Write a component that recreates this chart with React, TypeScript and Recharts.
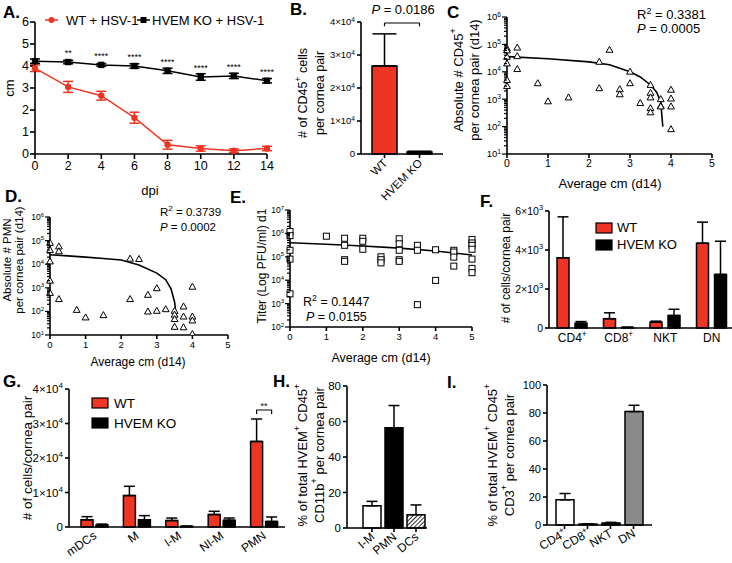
import React from 'react'
import {
  LineChart, Line, BarChart, Bar, Cell, ScatterChart, Scatter,
  XAxis, YAxis, ErrorBar, LabelList, ReferenceLine,
} from 'recharts'

const FONT = '"Liberation Sans", Arial, Helvetica, sans-serif'
const RED = '#EE3524'
const AX = { stroke: '#000', strokeWidth: 1.6 }

// A. lesion size (cm) over days post infection
const dpi = [0, 2, 4, 6, 8, 10, 12, 14]
const wtCm = [3.9, 3.05, 2.65, 1.65, 0.42, 0.25, 0.15, 0.25]
const wtCmSem = [0.15, 0.25, 0.2, 0.25, 0.2, 0.12, 0.08, 0.1]
const koCm = [4.22, 4.18, 4.05, 4.0, 3.78, 3.5, 3.55, 3.33]
const koCmSem = [0.1, 0.08, 0.06, 0.1, 0.12, 0.15, 0.12, 0.1]
const dpiSig = ['', '**', '****', '****', '****', '****', '****', '****']

// B. CD45+ cells
const bGroups = ['WT', 'HVEM KO']
const bCd45 = [26700, 600]
const bCd45Err = [9700, 250]

// C. CD45+ vs cm
const cCm = [0, 0, 0, 0, 0, 0, 0.25, 0.25, 0.25, 0.75, 1, 1.5, 2.25, 2.25, 2.5, 2.75, 2.75, 3, 3, 3.25, 3.5, 3.5, 3.5, 3.5, 3.5, 3.75, 3.75, 3.75, 4, 4, 4, 4]
const cCd45 = [70000, 60000, 35000, 20000, 5000, 3000, 76000, 37000, 12500, 3800, 830, 1150, 23000, 2500, 63000, 2300, 1500, 10000, 3800, 720, 3300, 1700, 1150, 470, 330, 1000, 570, 540, 2200, 1050, 540, 80]
const cFitCm = [0, 1, 2, 2.5, 3, 3.25, 3.5, 3.65, 3.75, 3.8]
const cFitVal = [36000, 30000, 23000, 18000, 10000, 6500, 3300, 1800, 800, 100]

// D. PMN vs cm
const dCm = [0, 0, 0, 0, 0, 0.25, 0.25, 0.25, 0.75, 1, 1.5, 2.25, 2.5, 2.25, 2.75, 2.75, 3, 3, 3.25, 3.5, 3.5, 3.5, 3.5, 3.75, 3.75, 3.75, 4, 4, 4, 4]
const dPmn = [80000, 40000, 13000, 2000, 600, 56000, 35000, 330, 115, 55, 69, 17000, 16500, 330, 500, 98, 950, 105, 123, 105, 72, 47, 22, 160, 60, 21, 1100, 60, 41, 11]
const dFitCm = [0, 0.5, 1, 1.5, 2, 2.5, 3, 3.25, 3.4, 3.5, 3.53]
const dFitVal = [25000, 22500, 20000, 17500, 15000, 9300, 4200, 2200, 900, 250, 100]

// E. titer vs cm
const eCm = [0, 0, 0, 0, 0, 1, 1.5, 1.5, 1.5, 1.5, 2, 2, 2, 2.5, 2.5, 2.5, 3, 3, 3, 3, 3, 3.5, 3.5, 3.5, 4, 4, 4.5, 4.5, 4.5, 4.5, 5, 5, 5, 5, 5, 5, 5]
const eTiter = [1.2e6, 8e5, 1.9e5, 8e4, 2.6e3, 7.6e5, 6.2e5, 3.1e5, 7.5e4, 6.4e4, 6.2e5, 4.6e5, 2.1e5, 1e5, 7.5e4, 5.5e4, 5.9e5, 3.6e5, 1.9e5, 7.5e4, 6.4e4, 3.1e5, 1.9e5, 900, 2e5, 9.8e3, 1.9e5, 1.6e5, 9.7e4, 4e4, 5.5e5, 3.9e5, 3.1e5, 2.1e5, 8e4, 3.2e4, 2.1e4]
const eFitCm = [0, 1, 2, 3, 4, 5]
const eFitVal = [400000, 345000, 290000, 235000, 178000, 120000]

// F. T cell subsets
const fCells = ['CD4^{+}', 'CD8^{+}', 'NKT', 'DN']
const fWt = [3600, 480, 300, 4350]
const fWtErr = [2100, 300, 50, 1080]
const fKo = [250, 30, 640, 2750]
const fKoErr = [80, 10, 320, 1700]

// G. myeloid subsets
const gCells = ['mDCs', 'M', 'I-M', 'NI-M', 'PMN']
const gWt = [2100, 9100, 1850, 3600, 24800]
const gWtErr = [900, 2700, 750, 950, 6500]
const gKo = [600, 2100, 200, 1950, 1600]
const gKoErr = [250, 1200, 50, 650, 1300]
const gSig = ['', '', '', '', '**']

// H. % of HVEM+ CD45+ CD11b+
const hCells = ['I-M', 'PMN', 'DCs']
const hPct = [12.5, 56.5, 7.5]
const hErr = [2.5, 12.5, 5.5]
const hFill = ['#fff', '#000', 'url(#hatchH)']

// I. % of HVEM+ CD45+ CD3+
const iCells = ['CD4^{+}', 'CD8^{+}', 'NKT', 'DN']
const iPct = [18, 0.7, 1.5, 81]
const iErr = [4.5, 0.2, 0.4, 4.5]
const iFill = ['#fff', '#000', '#000', '#8a8a8a']

const logDecadesC = [10, 100, 1e3, 1e4, 1e5, 1e6]
const logDecadesE = [100, 1e3, 1e4, 1e5, 1e6, 1e7]

function logTicks(decades: number[]) {
  const out: number[] = []
  decades.forEach((d, i) => {
    if (i === decades.length - 1) out.push(d)
    else for (let k = 1; k < 10; k++) out.push(d * k)
  })
  return out
}

// text with ^{...} superscripts
function rich(s: string, fs: number) {
  const parts = s.split(/(\^\{[^}]*\})/).filter(Boolean)
  let up = false
  return parts.map((p, i) => {
    if (p.startsWith('^{')) {
      up = true
      return <tspan key={i} dy={-fs * 0.4} fontSize={fs * 0.7}>{p.slice(2, -1)}</tspan>
    }
    const dy = up ? fs * 0.4 : undefined
    up = false
    return <tspan key={i} dy={dy}>{p}</tspan>
  })
}

const sci = (v: number) => {
  if (v === 0) return '0'
  const e = Math.floor(Math.log10(v) + 1e-9)
  return `${Math.round(v / 10 ** e)}×10^{${e}}`
}

const YTick = ({ x, y, payload, fs, fmt }: any) => (
  <text x={x} y={y} dy={fs * 0.35} textAnchor="end" fontSize={fs} fill="#000" fontFamily={FONT}>
    {rich(fmt ? fmt(payload.value) : String(payload.value), fs)}
  </text>
)

const LogTick = ({ x, y, payload, fs }: any) => {
  const e = Math.log10(payload.value)
  const major = Math.abs(e - Math.round(e)) < 1e-6
  return (
    <g>
      <line x1={x - (major ? 5 : 3)} x2={x} y1={y} y2={y} stroke="#000" strokeWidth={1.2} />
      {major && (
        <text x={x - 6} y={y} dy={fs * 0.35} textAnchor="end" fontSize={fs} fill="#000" fontFamily={FONT}>
          {rich(`10^{${Math.round(e)}}`, fs)}
        </text>
      )}
    </g>
  )
}

const XTick = ({ x, y, payload, fs, angle }: any) => (
  <g transform={`translate(${x},${y})`}>
    <text transform={`rotate(${angle})`} textAnchor={angle ? 'end' : 'middle'} dy={angle ? fs * 0.45 : fs * 0.85}
      fontSize={fs} fill="#000" fontFamily={FONT}>
      {rich(String(payload.value), fs)}
    </text>
  </g>
)

const Tri = ({ cx, cy }: any) => (
  <polygon points={`${cx},${cy - 3.6} ${cx - 3.4},${cy + 2.4} ${cx + 3.4},${cy + 2.4}`} fill="#fff" stroke="#000" strokeWidth={1} />
)
const Sq = ({ cx, cy }: any) => (
  <rect x={cx - 3} y={cy - 3} width={6} height={6} fill="#fff" stroke="#000" strokeWidth={1} />
)
const Empty = () => <g />

const RedDot = ({ cx, cy }: any) => <circle cx={cx} cy={cy} r={3.2} fill={RED} />
const BlackSq = ({ cx, cy }: any) => <rect x={cx - 3.2} y={cy - 3.2} width={6.4} height={6.4} fill="#000" />

const StarLabel = ({ x, y, value }: any) =>
  value ? <text x={x} y={y - 6} textAnchor="middle" fontSize={9} fill="#000" fontFamily={FONT}>{value}</text> : null

const tick = (fs: number) => ({ fill: '#000', fontSize: fs, fontFamily: FONT })

const YTitle = ({ x, y, lines, fs, gap }: any) => (
  <>
    {lines.map((l: string, i: number) => (
      <text key={i} transform={`translate(${x + i * gap},${y}) rotate(-90)`} textAnchor="middle" dominantBaseline="central"
        fontSize={fs} fill="#000" fontFamily={FONT}>{rich(l, fs)}</text>
    ))}
  </>
)

const T = ({ x, y, fs = 13, anchor = 'start', bold = false, children }: any) => (
  <text x={x} y={y} fontSize={fs} textAnchor={anchor} fontWeight={bold ? 'bold' : 'normal'} fill="#000" fontFamily={FONT}>{children}</text>
)

const Pos = ({ l, t, children }: any) => <div style={{ position: 'absolute', left: l, top: t }}>{children}</div>

export default function App() {
  const dataA = dpi.map((d, i) => ({ d, wt: wtCm[i], wtE: wtCmSem[i], ko: koCm[i], koE: koCmSem[i], sig: dpiSig[i] }))
  const dataB = bGroups.map((g, i) => ({ g, v: bCd45[i], e: [0, bCd45Err[i]] }))
  const ptsC = cCm.map((x, i) => ({ x, y: cCd45[i] }))
  const fitC = cFitCm.map((x, i) => ({ x, y: cFitVal[i] }))
  const ptsD = dCm.map((x, i) => ({ x, y: dPmn[i] }))
  const fitD = dFitCm.map((x, i) => ({ x, y: dFitVal[i] }))
  const ptsE = eCm.map((x, i) => ({ x, y: eTiter[i] }))
  const fitE = eFitCm.map((x, i) => ({ x, y: eFitVal[i] }))
  const dataF = fCells.map((c, i) => ({ c, wt: fWt[i], wtE: [0, fWtErr[i]], ko: fKo[i], koE: [0, fKoErr[i]] }))
  const dataG = gCells.map((c, i) => ({ c, wt: gWt[i], wtE: [0, gWtErr[i]], ko: gKo[i], koE: [0, gKoErr[i]], sig: gSig[i] }))
  const dataH = hCells.map((c, i) => ({ c, v: hPct[i], e: [0, hErr[i]] }))
  const dataI = iCells.map((c, i) => ({ c, v: iPct[i], e: [0, iErr[i]] }))

  const GBracket = (p: any) => {
    const i = p.index
    if (!gSig[i]) return null
    const pxPerUnit = p.height / gWt[i]
    const top = p.y - gWtErr[i] * pxPerUnit - 9
    const x1 = p.x + p.width / 2
    const x2 = x1 + p.width + 3
    return (
      <g>
        <path d={`M${x1},${top + 4} V${top} H${x2} V${top + 4}`} fill="none" stroke="#000" strokeWidth={1.2} />
        <text x={(x1 + x2) / 2} y={top - 1} textAnchor="middle" fontSize={9} fill="#000" fontFamily={FONT}>{gSig[i]}</text>
      </g>
    )
  }

  return (
    <div style={{ position: 'absolute', left: 0, top: 0, width: 732, height: 563, overflow: 'hidden', background: '#fff', fontFamily: FONT }}>
      {/* A */}
      <Pos l={0} t={0}>
        <LineChart width={280} height={200} data={dataA} margin={{ top: 22, right: 13, bottom: 0, left: 0 }}>
          <XAxis dataKey="d" type="number" domain={[0, 14]} ticks={dpi} interval={0} height={46} tickSize={5} tickMargin={2}
            tick={tick(12.5)} axisLine={AX} tickLine={AX} />
          <YAxis type="number" domain={[0, 6]} ticks={[0, 1, 2, 3, 4, 5, 6]} interval={0} width={35} tickSize={5} tickMargin={1}
            tick={tick(12.5)} axisLine={AX} tickLine={AX} />
          <Line dataKey="ko" stroke="#000" strokeWidth={1.5} dot={BlackSq} isAnimationActive={false}>
            <ErrorBar dataKey="koE" width={5} stroke="#000" strokeWidth={1.5} direction="y" />
            <LabelList dataKey="sig" content={StarLabel} />
          </Line>
          <Line dataKey="wt" stroke={RED} strokeWidth={1.5} dot={RedDot} isAnimationActive={false}>
            <ErrorBar dataKey="wtE" width={5} stroke={RED} strokeWidth={1.5} direction="y" />
          </Line>
        </LineChart>
      </Pos>

      {/* B */}
      <Pos l={290} t={0}>
        <BarChart width={160} height={215} data={dataB} margin={{ top: 22, right: 7, bottom: 0, left: 0 }}>
          <XAxis dataKey="g" height={61} padding={{ left: 6, right: 6 }} interval={0} tickSize={4} tickMargin={2}
            tick={(p: any) => <XTick {...p} fs={11.5} angle={-45} />} axisLine={AX} tickLine={AX} />
          <YAxis domain={[0, 40000]} ticks={[0, 10000, 20000, 30000, 40000]} interval={0} width={71} tickSize={4} tickMargin={2}
            tick={(p: any) => <YTick {...p} fs={9.5} fmt={sci} />} axisLine={AX} tickLine={AX} />
          <ReferenceLine segment={[{ x: 'WT', y: 39700 }, { x: 'HVEM KO', y: 39700 }]} stroke="#000" strokeWidth={1.2} />
          <ReferenceLine segment={[{ x: 'WT', y: 39700 }, { x: 'WT', y: 38700 }]} stroke="#000" strokeWidth={1.2} />
          <ReferenceLine segment={[{ x: 'HVEM KO', y: 39700 }, { x: 'HVEM KO', y: 38700 }]} stroke="#000" strokeWidth={1.2} />
          <Bar dataKey="v" barSize={25} stroke="#000" strokeWidth={1.5} isAnimationActive={false}>
            {bGroups.map((g, i) => <Cell key={g} fill={i === 0 ? RED : '#000'} />)}
            <ErrorBar dataKey="e" width={12} stroke="#000" strokeWidth={1.5} direction="y" />
          </Bar>
        </BarChart>
      </Pos>

      {/* C */}
      <Pos l={450} t={0}>
        <ScatterChart width={282} height={200} margin={{ top: 17, right: 20, bottom: 0, left: 0 }}>
          <XAxis dataKey="x" type="number" domain={[0, 5]} ticks={[0, 1, 2, 3, 4, 5]} interval={0} height={46} tickSize={4} tickMargin={2}
            tick={tick(10.5)} axisLine={AX} tickLine={AX} />
          <YAxis dataKey="y" type="number" scale="log" domain={[10, 1e6]} allowDataOverflow ticks={logTicks(logDecadesC)} interval={0}
            width={57} tickSize={0} tickMargin={0} tickLine={false} tick={(p: any) => <LogTick {...p} fs={9.5} />} axisLine={AX} />
          <Scatter data={fitC} line={{ stroke: '#000', strokeWidth: 1.6 }} shape={Empty} isAnimationActive={false} />
          <Scatter data={ptsC} shape={Tri} isAnimationActive={false} />
        </ScatterChart>
      </Pos>

      {/* D */}
      <Pos l={0} t={200}>
        <ScatterChart width={240} height={180} margin={{ top: 17, right: 12, bottom: 0, left: 0 }}>
          <XAxis dataKey="x" type="number" domain={[0, 5]} ticks={[0, 1, 2, 3, 4, 5]} interval={0} height={45} tickSize={4} tickMargin={2}
            tick={tick(9.5)} axisLine={AX} tickLine={AX} />
          <YAxis dataKey="y" type="number" scale="log" domain={[10, 1e6]} allowDataOverflow ticks={logTicks(logDecadesC)} interval={0}
            width={50} tickSize={0} tickMargin={0} tickLine={false} tick={(p: any) => <LogTick {...p} fs={8.5} />} axisLine={AX} />
          <Scatter data={fitD} line={{ stroke: '#000', strokeWidth: 1.6 }} shape={Empty} isAnimationActive={false} />
          <Scatter data={ptsD} shape={Tri} isAnimationActive={false} />
        </ScatterChart>
      </Pos>

      {/* E */}
      <Pos l={240} t={195}>
        <ScatterChart width={240} height={185} margin={{ top: 15, right: 8, bottom: 0, left: 0 }}>
          <XAxis dataKey="x" type="number" domain={[0, 5]} ticks={[0, 1, 2, 3, 4, 5]} interval={0} height={53} tickSize={4} tickMargin={2}
            tick={tick(9.5)} axisLine={AX} tickLine={AX} />
          <YAxis dataKey="y" type="number" scale="log" domain={[100, 1e7]} allowDataOverflow ticks={logTicks(logDecadesE)} interval={0}
            width={50} tickSize={0} tickMargin={0} tickLine={false} tick={(p: any) => <LogTick {...p} fs={8.5} />} axisLine={AX} />
          <Scatter data={fitE} line={{ stroke: '#000', strokeWidth: 1.6 }} shape={Empty} isAnimationActive={false} />
          <Scatter data={ptsE} shape={Sq} isAnimationActive={false} />
        </ScatterChart>
      </Pos>

      {/* F */}
      <Pos l={480} t={195}>
        <BarChart width={258} height={185} data={dataF} margin={{ top: 16, right: 3, bottom: 0, left: 0 }} barGap={6} barSize={12}>
          <XAxis dataKey="c" height={52} interval={0} tickSize={0} tickMargin={4}
            tick={(p: any) => <XTick {...p} fs={12} angle={0} />} axisLine={AX} tickLine={false} />
          <YAxis domain={[0, 6000]} ticks={[0, 2000, 4000, 6000]} interval={0} width={69} tickSize={4} tickMargin={2}
            tick={(p: any) => <YTick {...p} fs={10.5} fmt={sci} />} axisLine={AX} tickLine={AX} />
          <Bar dataKey="wt" fill={RED} stroke="#000" strokeWidth={1.5} isAnimationActive={false}>
            <ErrorBar dataKey="wtE" width={5.5} stroke="#000" strokeWidth={1.5} direction="y" />
          </Bar>
          <Bar dataKey="ko" fill="#000" stroke="#000" strokeWidth={1.5} isAnimationActive={false}>
            <ErrorBar dataKey="koE" width={5.5} stroke="#000" strokeWidth={1.5} direction="y" />
          </Bar>
        </BarChart>
      </Pos>

      {/* G */}
      <Pos l={0} t={375}>
        <BarChart width={290} height={188} data={dataG} margin={{ top: 14, right: 5, bottom: 0, left: 0 }} barGap={3} barSize={12}>
          <XAxis dataKey="c" height={36} interval={0} padding={{ left: 4, right: 0 }} tickSize={0} tickMargin={6}
            tick={(p: any) => <XTick {...p} fs={12} angle={-35} />} axisLine={AX} tickLine={false} />
          <YAxis domain={[0, 40000]} ticks={[0, 10000, 20000, 30000, 40000]} interval={0} width={69} tickSize={4} tickMargin={2}
            tick={(p: any) => <YTick {...p} fs={11.5} fmt={sci} />} axisLine={AX} tickLine={AX} />
          <Bar dataKey="wt" fill={RED} stroke="#000" strokeWidth={1.5} isAnimationActive={false}>
            <ErrorBar dataKey="wtE" width={5.5} stroke="#000" strokeWidth={1.5} direction="y" />
            <LabelList dataKey="sig" content={GBracket} />
          </Bar>
          <Bar dataKey="ko" fill="#000" stroke="#000" strokeWidth={1.5} isAnimationActive={false}>
            <ErrorBar dataKey="koE" width={5.5} stroke="#000" strokeWidth={1.5} direction="y" />
          </Bar>
        </BarChart>
      </Pos>

      {/* H */}
      <Pos l={290} t={375}>
        <BarChart width={150} height={188} data={dataH} margin={{ top: 11, right: 13, bottom: 0, left: 0 }}>
          <defs>
            <pattern id="hatchH" patternUnits="userSpaceOnUse" width={3} height={3} patternTransform="rotate(45)">
              <rect width={3} height={3} fill="#fff" />
              <line x1={0} y1={0} x2={0} y2={3} stroke="#333" strokeWidth={2} />
            </pattern>
          </defs>
          <XAxis dataKey="c" height={35} interval={0} padding={{ left: 14, right: 0 }} tickSize={4} tickMargin={2}
            tick={(p: any) => <XTick {...p} fs={12} angle={-40} />} axisLine={AX} tickLine={AX} />
          <YAxis domain={[0, 80]} ticks={[0, 20, 40, 60, 80]} interval={0} width={57} tickSize={4} tickMargin={2}
            tick={(p: any) => <YTick {...p} fs={11.5} />} axisLine={AX} tickLine={AX} />
          <Bar dataKey="v" barSize={18} stroke="#000" strokeWidth={1.5} isAnimationActive={false}>
            {hCells.map((c, i) => <Cell key={c} fill={hFill[i]} />)}
            <ErrorBar dataKey="e" width={5.5} stroke="#000" strokeWidth={1.5} direction="y" />
          </Bar>
        </BarChart>
      </Pos>

      {/* I */}
      <Pos l={480} t={375}>
        <BarChart width={252} height={188} data={dataI} margin={{ top: 10, right: 80, bottom: 0, left: 0 }}>
          <XAxis dataKey="c" height={38} interval={0} padding={{ left: 6, right: 7 }} tickSize={4} tickMargin={2}
            tick={(p: any) => <XTick {...p} fs={12} angle={-30} />} axisLine={AX} tickLine={AX} />
          <YAxis domain={[0, 100]} ticks={[0, 20, 40, 60, 80, 100]} interval={0} width={67} tickSize={4} tickMargin={2}
            tick={(p: any) => <YTick {...p} fs={11} />} axisLine={AX} tickLine={AX} />
          <Bar dataKey="v" barSize={18} stroke="#000" strokeWidth={1.5} isAnimationActive={false}>
            {iCells.map((c, i) => <Cell key={c} fill={iFill[i]} />)}
            <ErrorBar dataKey="e" width={5.5} stroke="#000" strokeWidth={1.5} direction="y" />
          </Bar>
        </BarChart>
      </Pos>

      {/* titles, legends, annotations */}
      <svg width={732} height={563} style={{ position: 'absolute', left: 0, top: 0, pointerEvents: 'none' }}>
        <T x={3} y={18} fs={17} bold>A.</T>
        <T x={290} y={15} fs={17} bold>B.</T>
        <T x={447} y={18} fs={17} bold>C</T>
        <T x={5} y={202} fs={17} bold>D.</T>
        <T x={230} y={203} fs={17} bold>E.</T>
        <T x={480} y={207} fs={17} bold>F.</T>
        <T x={3} y={387} fs={17} bold>G.</T>
        <T x={273} y={387} fs={17} bold>H.</T>
        <T x={447} y={388} fs={17} bold>I.</T>

        {/* A legend */}
        <line x1={45} x2={58} y1={20} y2={20} stroke={RED} strokeWidth={1.5} />
        <circle cx={51.5} cy={20} r={3} fill={RED} />
        <T x={66} y={25} fs={13}>WT + HSV-1</T>
        <line x1={137} x2={150} y1={20} y2={20} stroke="#000" strokeWidth={1.5} />
        <rect x={140.5} y={17} width={6} height={6} fill="#000" />
        <T x={152} y={25} fs={13}>HVEM KO + HSV-1</T>
        <YTitle x={9} y={88} lines={['cm']} fs={13} gap={0} />
        <T x={150} y={195} fs={13} anchor="middle">dpi</T>

        {/* B */}
        <YTitle x={303} y={93} lines={['# of CD45^{+} cells', 'per cornea pair']} fs={12.5} gap={17} />
        <text x={403} y={14} fontSize={13} textAnchor="middle" fontFamily={FONT} fill="#000">
          <tspan fontStyle="italic">P</tspan> = 0.0186
        </text>

        {/* C */}
        <YTitle x={458} y={80} lines={['Absolute # CD45^{+}', 'per cornea pair (d14)']} fs={13} gap={16} />
        <T x={610} y={188} fs={13} anchor="middle">Average cm (d14)</T>
        <text x={637} y={19} fontSize={13} fontFamily={FONT} fill="#000">{rich('R^{2} = 0.3381', 13)}</text>
        <text x={637} y={33} fontSize={13} fontFamily={FONT} fill="#000"><tspan fontStyle="italic">P</tspan> = 0.0005</text>

        {/* D */}
        <YTitle x={7} y={260} lines={['Absolute # PMN', 'per cornea pair (d14)']} fs={11.5} gap={11.5} />
        <T x={138} y={366} fs={12} anchor="middle">Average cm (d14)</T>
        <text x={160} y={216} fontSize={11.5} fontFamily={FONT} fill="#000">{rich('R^{2} = 0.3739', 11.5)}</text>
        <text x={160} y={230.5} fontSize={11.5} fontFamily={FONT} fill="#000"><tspan fontStyle="italic">P</tspan> = 0.0002</text>

        {/* E */}
        <YTitle x={262} y={266} lines={['Titer (Log PFU/ml) d1']} fs={12} gap={0} />
        <T x={381} y={362} fs={12.5} anchor="middle">Average cm (d14)</T>
        <text x={303} y={306} fontSize={12.5} fontFamily={FONT} fill="#000">{rich('R^{2} = 0.1447', 12.5)}</text>
        <text x={306} y={321} fontSize={12.5} fontFamily={FONT} fill="#000"><tspan fontStyle="italic">P</tspan> = 0.0155</text>

        {/* F */}
        <YTitle x={506} y={268} lines={['# of cells/cornea pair']} fs={12} gap={0} />
        <rect x={596} y={223} width={16} height={10} fill={RED} stroke="#000" strokeWidth={1.2} />
        <T x={617} y={232} fs={13}>WT</T>
        <rect x={596} y={240} width={16} height={10} fill="#000" stroke="#000" strokeWidth={1.2} />
        <T x={617} y={249} fs={13}>HVEM KO</T>

        {/* G */}
        <YTitle x={27} y={458} lines={['# of cells/cornea pair']} fs={13.5} gap={0} />
        <rect x={92} y={398} width={16} height={10} fill={RED} stroke="#000" strokeWidth={1.2} />
        <T x={114} y={408} fs={13.5}>WT</T>
        <rect x={92} y={418} width={16} height={10} fill="#000" stroke="#000" strokeWidth={1.2} />
        <T x={114} y={428} fs={13.5}>HVEM KO</T>

        {/* H, I */}
        <YTitle x={302} y={455} lines={['% of total HVEM^{+} CD45^{+}', 'CD11b^{+} per cornea pair']} fs={13} gap={17} />
        <YTitle x={492} y={455} lines={['% of total HVEM^{+} CD45^{+}', 'CD3^{+} per cornea pair']} fs={13} gap={17} />
      </svg>
    </div>
  )
}
